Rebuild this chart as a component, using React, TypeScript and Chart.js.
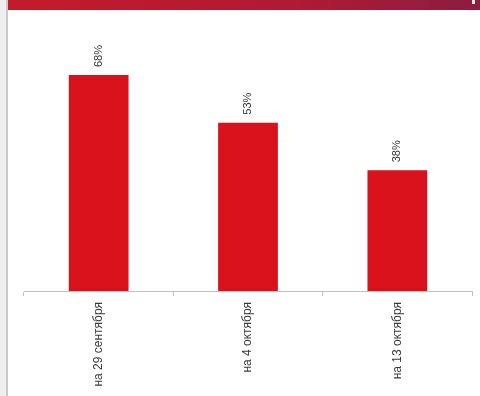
import React, { useEffect, useRef } from "react";
import { Chart, registerables } from "chart.js";

Chart.register(...registerables);

const categories = ["на 29 сентября", "на 4 октября", "на 13 октября"];
const values = [68, 53, 38];
const valueLabels = ["68%", "53%", "38%"];

const FONT = "'Liberation Sans', Arial, sans-serif";

const decorPlugin = {
  id: "decor",
  beforeDraw(chart: any) {
    const { ctx, width, height } = chart;
    ctx.save();
    ctx.fillStyle = "#ffffff";
    ctx.fillRect(0, 0, width, height);
    ctx.fillStyle = "#efefef";
    ctx.fillRect(0, 0, 6, height);
    ctx.fillStyle = "#cacaca";
    ctx.fillRect(6, 0, 2, height);
    const g = ctx.createLinearGradient(8, 0, width, 0);
    g.addColorStop(0, "#c41a2c");
    g.addColorStop(0.6, "#b01a34");
    g.addColorStop(1, "#8c1c40");
    ctx.fillStyle = g;
    ctx.fillRect(8, 0, width - 8, 10);
    ctx.fillStyle = "#f4e6ea";
    ctx.fillRect(472, 0, 3, 4);
    ctx.restore();
  },
};

const valueLabelPlugin = {
  id: "valueLabels",
  afterDatasetsDraw(chart: any) {
    const { ctx } = chart;
    const meta = chart.getDatasetMeta(0);
    ctx.save();
    ctx.font = `11px ${FONT}`;
    ctx.fillStyle = "#333333";
    ctx.textAlign = "left";
    ctx.textBaseline = "middle";
    meta.data.forEach((bar: any, i: number) => {
      ctx.save();
      ctx.translate(bar.x, bar.y - 8);
      ctx.rotate(-Math.PI / 2);
      ctx.fillText(valueLabels[i], 0, 0);
      ctx.restore();
    });
    ctx.restore();
  },
};

export default function App() {
  const ref = useRef<HTMLCanvasElement | null>(null);
  useEffect(() => {
    if (!ref.current) return;
    const chart = new Chart(ref.current, {
      type: "bar",
      data: {
        labels: categories,
        datasets: [
          {
            data: values,
            backgroundColor: "#d9111b",
            borderWidth: 0,
            categoryPercentage: 1,
            barPercentage: 0.4,
          },
        ],
      },
      options: {
        animation: false,
        responsive: false,
        maintainAspectRatio: false,
        layout: { padding: { left: 24, right: 8, top: 37, bottom: 0 } },
        plugins: { legend: { display: false }, tooltip: { enabled: false } },
        scales: {
          y: { display: false, min: 0, max: 80 },
          x: {
            afterFit(scale: any) {
              scale.height = 105;
            },
            border: { display: true, color: "#c0c0c0", width: 1 },
            grid: {
              offset: true,
              drawOnChartArea: false,
              drawTicks: true,
              tickLength: 5,
              color: "#c0c0c0",
            },
            ticks: {
              minRotation: 90,
              maxRotation: 90,
              padding: 6,
              color: "#3a3a3a",
              font: { family: FONT, size: 12 },
            },
          },
        },
      },
      plugins: [decorPlugin, valueLabelPlugin],
    });
    return () => chart.destroy();
  }, []);
  return (
    <div style={{ position: "fixed", left: 0, top: 0, width: 480, height: 396 }}>
      <canvas ref={ref} width={480} height={396} style={{ width: 480, height: 396, display: "block" }} />
    </div>
  );
}
